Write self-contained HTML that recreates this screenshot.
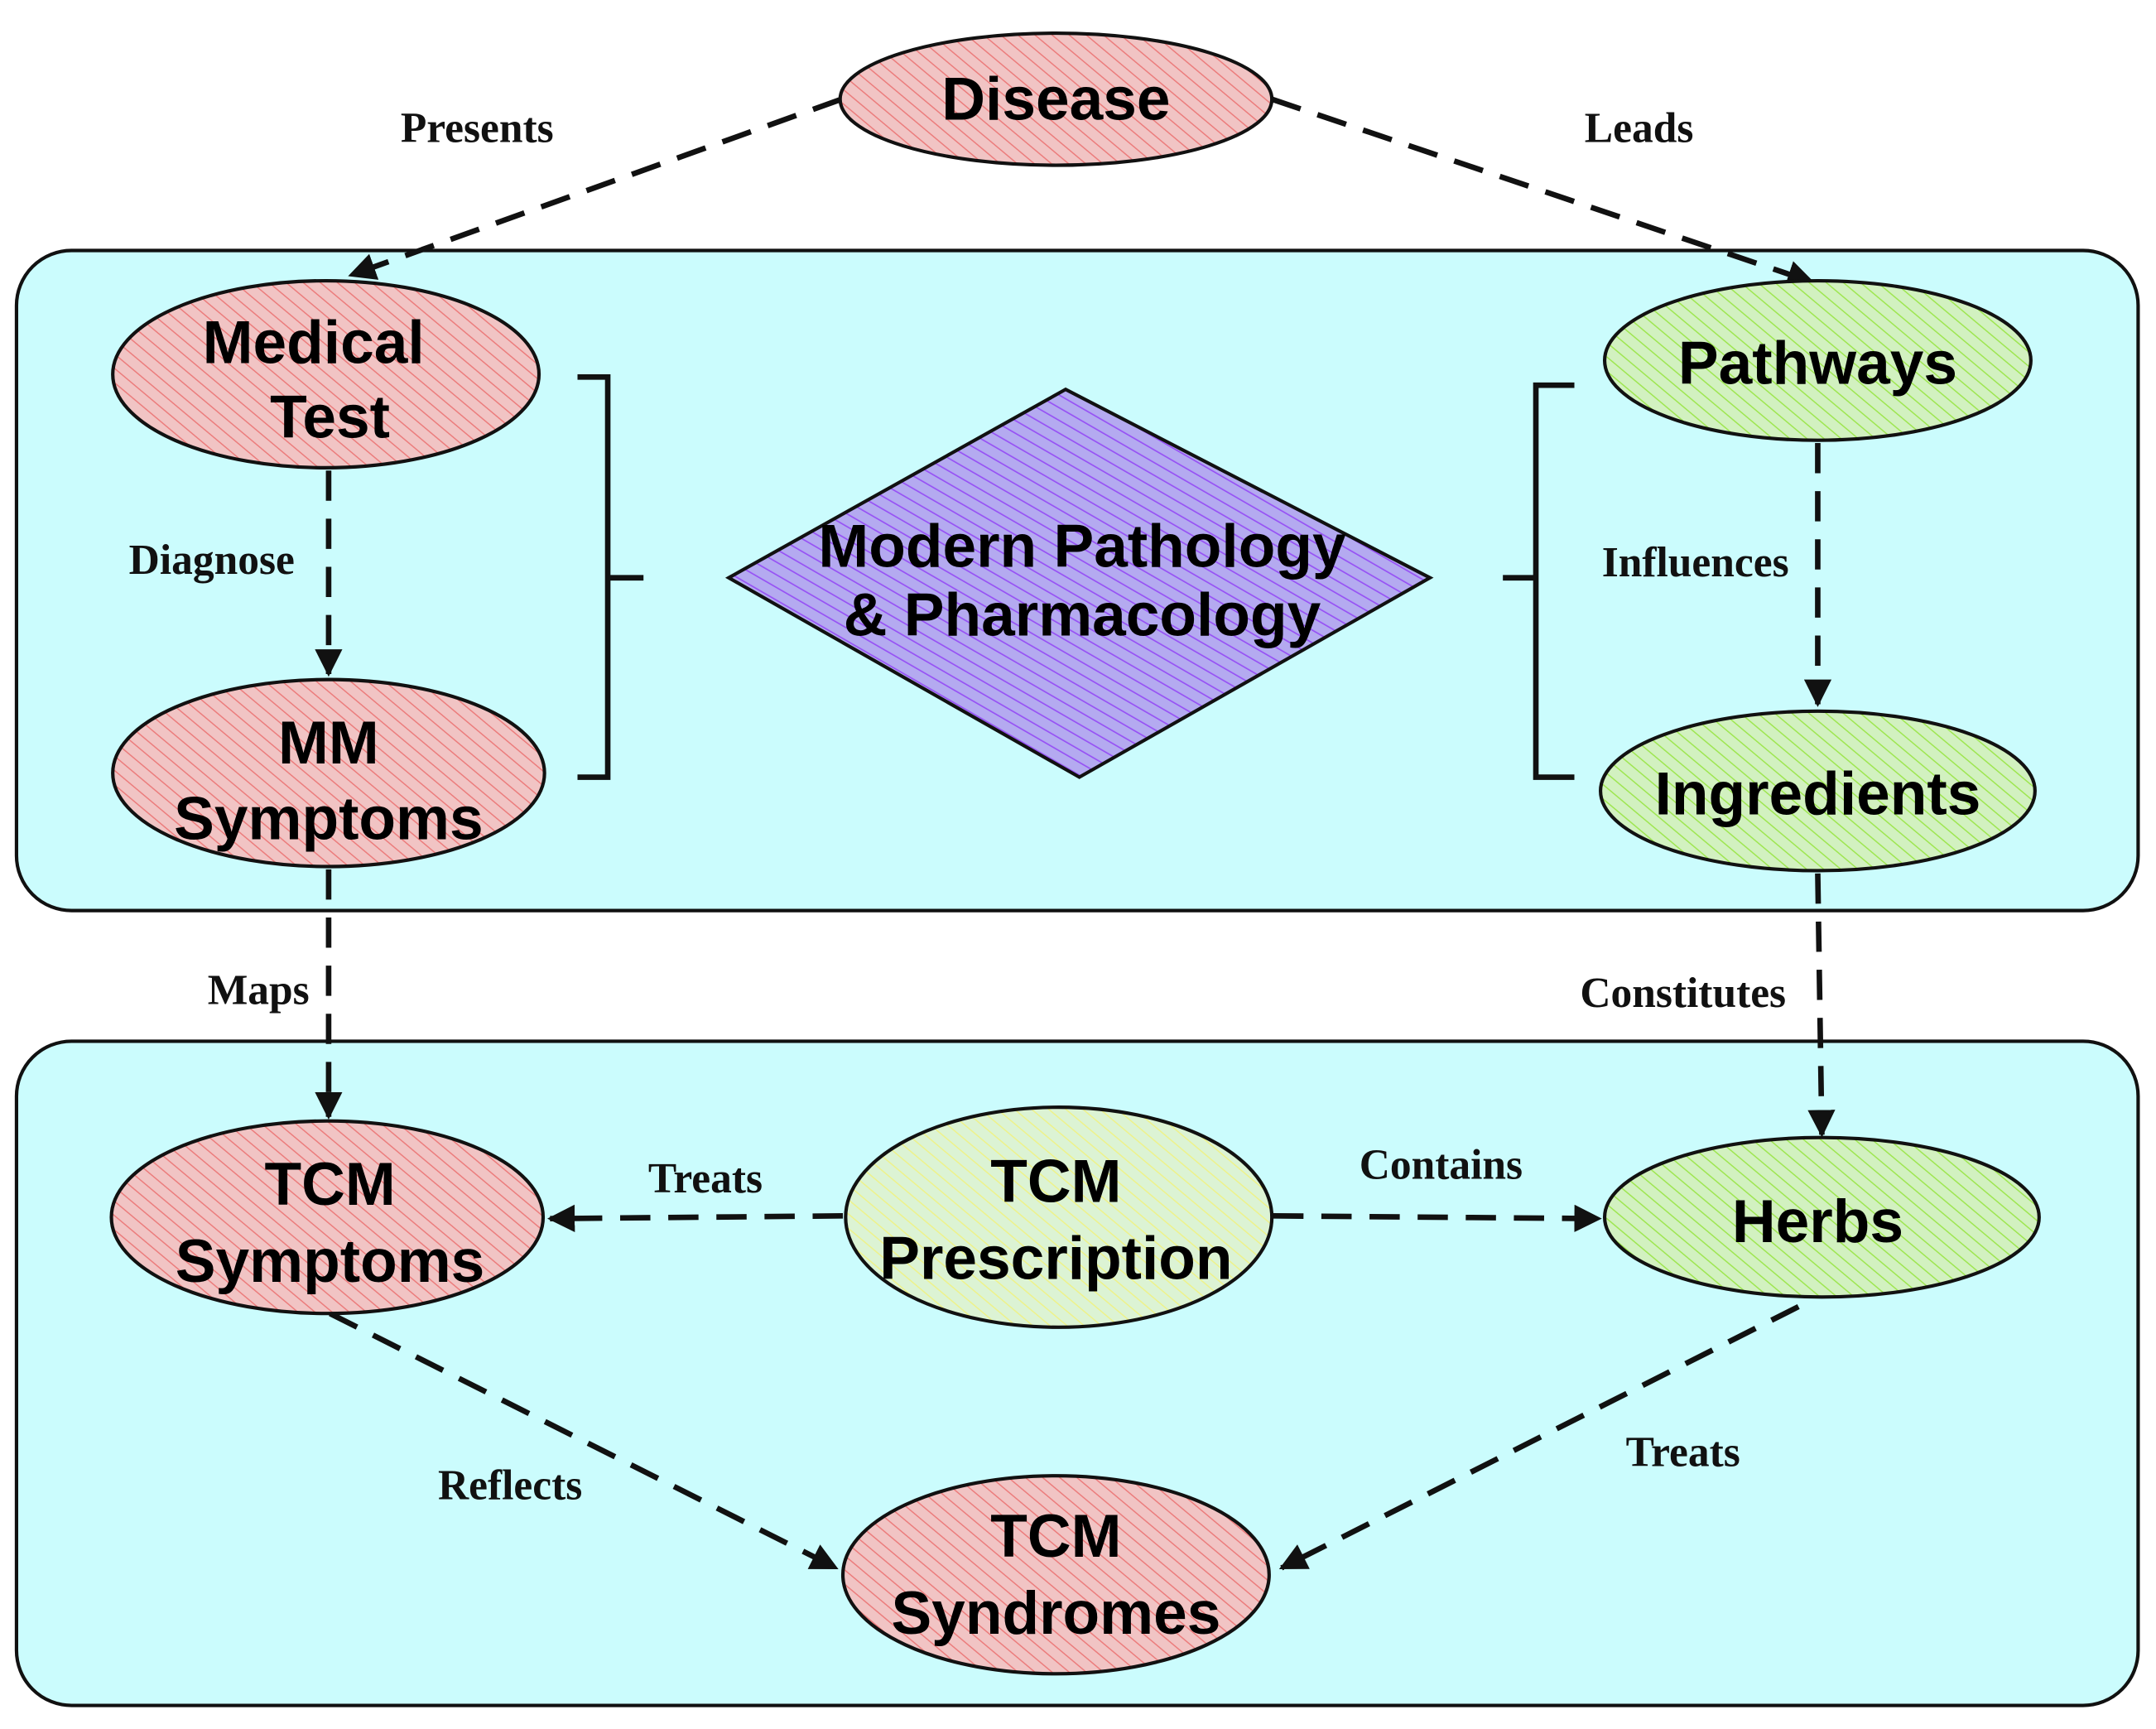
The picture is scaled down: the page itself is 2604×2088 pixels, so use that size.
<!DOCTYPE html>
<html><head><meta charset="utf-8"><style>
html,body{margin:0;padding:0;background:#fff;}
svg{display:block;}
.node{font-family:"Liberation Sans",sans-serif;font-weight:bold;font-size:44px;fill:#000;text-anchor:middle;}
.lbl{font-family:"Liberation Serif",serif;font-weight:bold;font-size:31px;fill:#111;text-anchor:middle;}
.edge{stroke:#111;stroke-width:4;fill:none;stroke-dasharray:22 13;}
</style></head><body>
<svg width="2604" height="2088" viewBox="0 0 1568 1257" xmlns="http://www.w3.org/2000/svg">
<defs>
<pattern id="hr" width="8" height="8" patternUnits="userSpaceOnUse" patternTransform="rotate(-50)"><rect width="8" height="8" fill="#f1c4c4"/><line x1="0" y1="0" x2="0" y2="8" stroke="#ec7c7c" stroke-width="1.8"/></pattern>
<pattern id="hg" width="8" height="8" patternUnits="userSpaceOnUse" patternTransform="rotate(-50)"><rect width="8" height="8" fill="#d2f1c0"/><line x1="0" y1="0" x2="0" y2="8" stroke="#9ee650" stroke-width="1.8"/></pattern>
<pattern id="hy" width="8" height="8" patternUnits="userSpaceOnUse" patternTransform="rotate(-50)"><rect width="8" height="8" fill="#dcf3d4"/><line x1="0" y1="0" x2="0" y2="8" stroke="#eef28a" stroke-width="1.8"/></pattern>
<pattern id="hp" width="8" height="8" patternUnits="userSpaceOnUse" patternTransform="rotate(-60)"><rect width="8" height="8" fill="#b4aaf0"/><line x1="0" y1="0" x2="0" y2="8" stroke="#9650f5" stroke-width="2"/></pattern>
<marker id="ar" viewBox="0 0 10 10" refX="9" refY="5" markerWidth="5" markerHeight="5" orient="auto"><path d="M0,0 L10,5 L0,10 Z" fill="#111"/></marker>
</defs>
<rect x="12" y="182" width="1543" height="480" rx="40" fill="#cbfcfd" stroke="#111" stroke-width="2.5"/>
<rect x="12" y="757" width="1543" height="483" rx="40" fill="#cbfcfd" stroke="#111" stroke-width="2.5"/>

<g>
<path class="edge" d="M612,72 L255,200" marker-end="url(#ar)"/>
<path class="edge" d="M925,72 L1318,205" marker-end="url(#ar)"/>
<path class="edge" d="M239,342 L239,490" marker-end="url(#ar)"/>
<path class="edge" d="M1322,322 L1322,512" marker-end="url(#ar)"/>
<path class="edge" d="M239,632 L239,812" marker-end="url(#ar)"/>
<path class="edge" d="M1322,635 L1325,825" marker-end="url(#ar)"/>
<path class="edge" d="M613,884 L400,886" marker-end="url(#ar)"/>
<path class="edge" d="M926,884 L1163,886" marker-end="url(#ar)"/>
<path class="edge" d="M240,955 L608,1140" marker-end="url(#ar)"/>
<path class="edge" d="M1308,950 L932,1140" marker-end="url(#ar)"/>
</g>

<g stroke="#111" stroke-width="4" fill="none">
<path d="M420,274 L442,274 L442,565 L420,565 M442,420 L468,420"/>
<path d="M1145,280 L1117,280 L1117,565 L1145,565 M1117,420 L1093,420"/>
</g>

<g>
<path d="M530,420 L775,283 L1040,420 L785,565 Z" fill="url(#hp)" stroke="#111" stroke-width="2.5"/>
<text class="node" x="787" y="412" font-size="38">Modern Pathology</text>
<text class="node" x="787" y="462" font-size="38">&amp; Pharmacology</text>
</g>

<g stroke="#111" stroke-width="2.5">
<ellipse cx="768" cy="72" rx="157" ry="48" fill="url(#hr)"/>
<ellipse cx="237" cy="272" rx="155" ry="68" fill="url(#hr)"/>
<ellipse cx="239" cy="562" rx="157" ry="68" fill="url(#hr)"/>
<ellipse cx="1322" cy="262" rx="155" ry="58" fill="url(#hg)"/>
<ellipse cx="1322" cy="575" rx="158" ry="58" fill="url(#hg)"/>
<ellipse cx="238" cy="885" rx="157" ry="70" fill="url(#hr)"/>
<ellipse cx="770" cy="885" rx="155" ry="80" fill="url(#hy)"/>
<ellipse cx="1325" cy="885" rx="158" ry="58" fill="url(#hg)"/>
<ellipse cx="768" cy="1145" rx="155" ry="72" fill="url(#hr)"/>
</g>

<g>
<text class="node" x="768" y="87">Disease</text>
<text class="node" x="228" y="264">Medical</text>
<text class="node" x="240" y="318">Test</text>
<text class="node" x="239" y="555">MM</text>
<text class="node" x="239" y="610">Symptoms</text>
<text class="node" x="1322" y="279">Pathways</text>
<text class="node" x="1322" y="592">Ingredients</text>
<text class="node" x="240" y="876">TCM</text>
<text class="node" x="240" y="932">Symptoms</text>
<text class="node" x="768" y="874">TCM</text>
<text class="node" x="768" y="930">Prescription</text>
<text class="node" x="1322" y="903">Herbs</text>
<text class="node" x="768" y="1132">TCM</text>
<text class="node" x="768" y="1188">Syndromes</text>
</g>

<g>
<text class="lbl" x="347" y="103">Presents</text>
<text class="lbl" x="1192" y="103">Leads</text>
<text class="lbl" x="154" y="417">Diagnose</text>
<text class="lbl" x="1233" y="419">Influences</text>
<text class="lbl" x="188" y="730">Maps</text>
<text class="lbl" x="1224" y="732">Constitutes</text>
<text class="lbl" x="513" y="867">Treats</text>
<text class="lbl" x="1048" y="857">Contains</text>
<text class="lbl" x="371" y="1090">Reflects</text>
<text class="lbl" x="1224" y="1066">Treats</text>
</g>
</svg>
</body></html>
